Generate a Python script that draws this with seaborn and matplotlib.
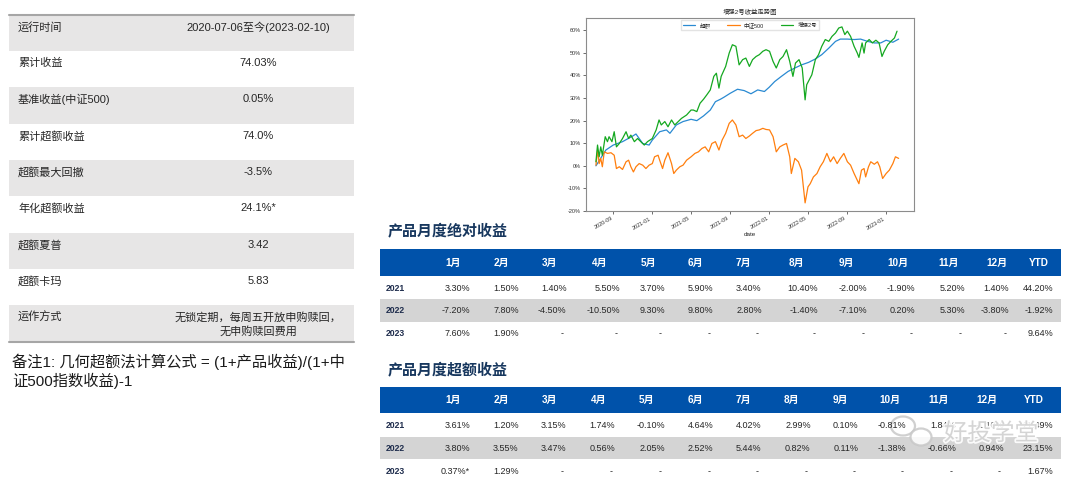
import pandas as pd
import seaborn as sns
import matplotlib.pyplot as plt
import matplotlib.dates as mdates
import matplotlib.patheffects as pe
from matplotlib.ticker import FuncFormatter, MultipleLocator
from matplotlib.patches import Rectangle, Ellipse

# ---- 左侧产品指标 ----
stat_names = ['运行时间', '累计收益', '基准收益(中证500)', '累计超额收益', '超额最大回撤',
              '年化超额收益', '超额夏普', '超额卡玛', '运作方式']
stat_values = ['2020-07-06至今(2023-02-10)', '74.03%', '0.05%', '74.0%', '-3.5%',
               '24.1%*', '3.42', '5.83', '无锁定期，每周五开放申购赎回，\n无申购赎回费用']
note_text = '备注1: 几何超额法计算公式 = (1+产品收益)/(1+中\n证500指数收益)-1'

# ---- 月度收益表 ----
month_cols = ['1月', '2月', '3月', '4月', '5月', '6月', '7月', '8月', '9月',
              '10月', '11月', '12月', 'YTD']
years = ['2021', '2022', '2023']
abs_2021 = ['3.30%', '1.50%', '1.40%', '5.50%', '3.70%', '5.90%', '3.40%', '10.40%',
            '-2.00%', '-1.90%', '5.20%', '1.40%', '44.20%']
abs_2022 = ['-7.20%', '7.80%', '-4.50%', '-10.50%', '9.30%', '9.80%', '2.80%', '-1.40%',
            '-7.10%', '0.20%', '5.30%', '-3.80%', '-1.92%']
abs_2023 = ['7.60%', '1.90%', '-', '-', '-', '-', '-', '-', '-', '-', '-', '-', '9.64%']
exc_2021 = ['3.61%', '1.20%', '3.15%', '1.74%', '-0.10%', '4.64%', '4.02%', '2.99%',
            '0.10%', '-0.81%', '1.84%', '-1.10%', '21.49%']
exc_2022 = ['3.80%', '3.55%', '3.47%', '0.56%', '2.05%', '2.52%', '5.44%', '0.82%',
            '0.11%', '-1.38%', '-0.66%', '0.94%', '23.15%']
exc_2023 = ['0.37%*', '1.29%', '-', '-', '-', '-', '-', '-', '-', '-', '-', '-', '1.67%']

# ---- 收益走势 (单位 %) ----
excess_dates = ['2020-07-09', '2020-08-09', '2020-09-01', '2020-09-30', '2020-11-01', '2020-11-11',
                '2020-12-02', '2020-12-22', '2021-01-01', '2021-01-24', '2021-02-14', '2021-02-25',
                '2021-03-17', '2021-04-07', '2021-05-02', '2021-05-20', '2021-06-10', '2021-07-01',
                '2021-07-17', '2021-08-02', '2021-08-13', '2021-09-01', '2021-09-24', '2021-10-15',
                '2021-11-05', '2021-11-26', '2021-12-17', '2022-01-01', '2022-01-18', '2022-02-08',
                '2022-03-01', '2022-03-22', '2022-04-12', '2022-05-04', '2022-05-25', '2022-06-14',
                '2022-07-06', '2022-07-27', '2022-08-11', '2022-09-02', '2022-09-23', '2022-10-13',
                '2022-11-04', '2022-11-25', '2022-12-15', '2023-01-01', '2023-01-22', '2023-02-09']
excess_vals = [0.0, 7.0, 9.2, 10.7, 13.2, 14.1, 9.9, 9.2, 11.4, 15.1, 15.9, 14.4,
               18.1, 19.6, 20.6, 20.0, 22.1, 24.7, 28.4, 29.5, 30.4, 32.1, 33.9, 33.3,
               31.9, 33.6, 32.9, 34.8, 37.3, 39.6, 41.8, 43.3, 44.7, 45.8, 47.3, 49.2,
               52.1, 55.1, 56.1, 56.1, 55.9, 56.1, 55.1, 54.4, 54.4, 55.6, 54.7, 56.1]

csi_dates = ['2020-07-09', '2020-07-14', '2020-07-19', '2020-07-24', '2020-07-29', '2020-08-04',
             '2020-08-14', '2020-08-25', '2020-09-04', '2020-09-11', '2020-09-20', '2020-09-30',
             '2020-10-11', '2020-10-19', '2020-10-26', '2020-11-03', '2020-11-11', '2020-11-21',
             '2020-12-02', '2020-12-12', '2020-12-22', '2021-01-01', '2021-01-08', '2021-01-19',
             '2021-01-24', '2021-02-02', '2021-02-09', '2021-02-19', '2021-03-02', '2021-03-09',
             '2021-03-17', '2021-03-28', '2021-04-07', '2021-04-18', '2021-05-02', '2021-05-14',
             '2021-05-25', '2021-06-05', '2021-06-15', '2021-06-26', '2021-07-06', '2021-07-17',
             '2021-07-28', '2021-08-07', '2021-08-18', '2021-08-29', '2021-09-08', '2021-09-19',
             '2021-09-29', '2021-10-10', '2021-10-20', '2021-10-31', '2021-11-10', '2021-11-21',
             '2021-12-01', '2021-12-12', '2021-12-22', '2022-01-02', '2022-01-13', '2022-01-23',
             '2022-02-03', '2022-02-13', '2022-02-24', '2022-03-06', '2022-03-11', '2022-03-22',
             '2022-04-02', '2022-04-12', '2022-04-23', '2022-05-02', '2022-05-09', '2022-05-19',
             '2022-05-30', '2022-06-09', '2022-06-19', '2022-06-30', '2022-07-11', '2022-07-21',
             '2022-08-01', '2022-08-11', '2022-08-22', '2022-09-02', '2022-09-12', '2022-09-23',
             '2022-10-03', '2022-10-08', '2022-10-16', '2022-10-24', '2022-10-29', '2022-11-07',
             '2022-11-14', '2022-11-25', '2022-12-05', '2022-12-12', '2022-12-21', '2023-01-01',
             '2023-01-11', '2023-01-22', '2023-01-30', '2023-02-09']
csi_vals = [0.3, 7.0, 1.0, 3.3, -0.4, 6.2, 5.5, 5.8, 4.7, -1.2, -0.4, -1.6,
            1.8, 2.5, -0.4, -2.7, -0.4, 1.0, 0.3, -1.2, 0.3, 1.0, 4.0, 4.7,
            2.5, -1.2, 2.5, 5.8, 1.0, -3.4, -1.9, -0.4, 0.3, 2.5, 4.0, 5.5,
            6.2, 7.7, 8.4, 6.2, 9.9, 10.7, 7.0, 11.4, 14.4, 18.8, 20.3, 18.1,
            12.9, 13.6, 12.1, 13.2, 14.4, 15.6, 15.9, 16.6, 16.1, 15.9, 12.9, 6.2,
            8.4, 9.2, 9.9, 4.0, -3.4, 3.3, 1.8, -1.9, -16.4, -9.3, -7.9, -4.9,
            -3.4, -0.4, 1.8, 5.5, 1.8, 4.0, 1.0, 3.3, 5.5, 1.8, 0.3, -3.4,
            -6.4, -7.9, -1.9, -1.2, -4.9, -0.4, 1.8, 0.7, 1.8, -0.4, -5.6, -3.4,
            -1.9, 1.0, 4.0, 3.3]

fund_dates = ['2020-07-09', '2020-07-14', '2020-07-19', '2020-07-24', '2020-07-29', '2020-08-07',
              '2020-08-14', '2020-08-19', '2020-08-28', '2020-09-04', '2020-09-11', '2020-09-20',
              '2020-09-30', '2020-10-11', '2020-10-19', '2020-10-26', '2020-11-06', '2020-11-16',
              '2020-11-26', '2020-12-07', '2020-12-17', '2021-01-01', '2021-01-13', '2021-01-22',
              '2021-01-29', '2021-02-09', '2021-02-19', '2021-03-02', '2021-03-12', '2021-03-23',
              '2021-04-02', '2021-04-18', '2021-05-02', '2021-05-09', '2021-05-20', '2021-05-30',
              '2021-06-10', '2021-06-20', '2021-07-01', '2021-07-12', '2021-07-20', '2021-07-28',
              '2021-08-04', '2021-08-18', '2021-08-29', '2021-09-08', '2021-09-19', '2021-09-29',
              '2021-10-10', '2021-10-20', '2021-10-31', '2021-11-10', '2021-11-21', '2021-12-01',
              '2021-12-12', '2021-12-22', '2022-01-02', '2022-01-13', '2022-01-23', '2022-02-03',
              '2022-02-13', '2022-02-24', '2022-03-06', '2022-03-16', '2022-03-24', '2022-04-04',
              '2022-04-14', '2022-04-23', '2022-04-28', '2022-05-06', '2022-05-14', '2022-05-25',
              '2022-06-04', '2022-06-14', '2022-06-25', '2022-07-06', '2022-07-16', '2022-07-27',
              '2022-08-06', '2022-08-16', '2022-08-25', '2022-09-02', '2022-09-12', '2022-09-23',
              '2022-10-03', '2022-10-08', '2022-10-18', '2022-10-24', '2022-10-29', '2022-11-09',
              '2022-11-19', '2022-11-30', '2022-12-10', '2022-12-19', '2022-12-26', '2023-01-06',
              '2023-01-16', '2023-01-27', '2023-02-04']
fund_vals = [1.8, 9.2, 4.0, 8.4, 4.7, 12.9, 10.7, 12.9, 10.7, 15.1, 8.4, 9.9,
             12.1, 15.1, 12.1, 13.6, 10.7, 12.1, 10.7, 9.2, 10.7, 12.1, 15.9, 20.3,
             18.1, 19.6, 17.3, 20.3, 18.1, 19.6, 21.0, 22.5, 24.7, 24.7, 24.0, 27.7,
             29.5, 31.4, 33.6, 39.6, 41.0, 34.4, 39.6, 44.0, 49.9, 53.6, 52.9, 44.7,
             47.0, 47.7, 44.0, 47.0, 48.4, 49.2, 50.7, 51.4, 50.7, 46.2, 43.3, 47.0,
             48.4, 51.4, 46.2, 39.6, 45.5, 47.0, 43.3, 29.2, 35.9, 38.1, 40.3, 47.0,
             49.2, 52.9, 55.9, 55.1, 57.3, 58.8, 61.0, 61.5, 58.1, 59.6, 57.3, 52.9,
             49.9, 48.0, 54.4, 49.9, 54.4, 55.9, 54.4, 55.6, 54.4, 48.4, 50.7, 53.6,
             55.1, 56.6, 59.6]

series_names = ['超额', '中证500', '增强2号']
series_colors = ['#2a8ad2', '#ff7f0e', '#14a820']

sns.set_theme(style='white')
plt.rcParams['font.family'] = ['Liberation Sans', 'Noto Sans CJK SC', 'DejaVu Sans']

fig = plt.figure(figsize=(10.8, 4.83), dpi=100)

# 画布坐标 (像素) 用于表格
bg = fig.add_axes([0, 0, 1, 1])
bg.set_xlim(0, 1080)
bg.set_ylim(483, 0)
bg.axis('off')

# ---- 左表 ----
row_edges = [15, 51, 87, 124, 160, 196, 233, 269, 305, 342]
for i, (name, val) in enumerate(zip(stat_names, stat_values)):
    top, bot = row_edges[i], row_edges[i + 1]
    if i % 2 == 0:
        bg.add_patch(Rectangle((9, top), 345, bot - top, color='#e7e6e6', lw=0))
    bg.text(18, top + 12, name, fontsize=8, va='center', ha='left', color='#262626')
    nlines = val.count('\n') + 1
    bg.text(258, top + 12 + 7.5 * (nlines - 1), val, fontsize=8, va='center', ha='center',
            multialignment='center', linespacing=1.35, color='#262626')
bg.plot([9, 354], [row_edges[0], row_edges[0]], color='#a6a6a6', lw=1.5)
bg.plot([9, 354], [row_edges[-1], row_edges[-1]], color='#a6a6a6', lw=1.5)
bg.text(12.5, 371.5, note_text, fontsize=11, va='center', ha='left', linespacing=1.22,
        color='#1a1a1a')

# ---- 右侧月度表 ----
def draw_table(title, title_y, head, row_ys, gray, centers, rights, rows):
    bg.text(388, title_y, title, fontsize=10.8, fontweight='bold', color='#17375e',
            va='center', ha='left')
    bg.add_patch(Rectangle((380, head[0]), 681, head[1] - head[0], color='#0052aa', lw=0))
    bg.add_patch(Rectangle((380, gray[0]), 681, gray[1] - gray[0], color='#d4d4d4', lw=0))
    hy = (head[0] + head[1]) / 2
    for c, m in zip(centers, month_cols):
        bg.text(c, hy, m, fontsize=7.2, fontweight='bold', color='white', ha='center', va='center')
    for y, yr, vals in zip(row_ys, years, rows):
        bg.text(386, y, yr, fontsize=6.2, fontweight='bold', color='#1f2d4d', ha='left', va='center')
        for r, v in zip(rights, vals):
            x = r - 3 if v == '-' else r
            bg.text(x, y, v, fontsize=6.5, color='#262626', ha='right', va='center')


draw_table('产品月度绝对收益', 231, (249.3, 276), [288.7, 310.7, 334], (299.3, 322),
           [452.7, 501.7, 550, 600, 648.3, 695, 743.3, 796, 846.7, 898.3, 948.3, 996.7, 1038.3],
           [470, 518.7, 566.7, 620.7, 665, 713.3, 761.7, 818.3, 867.3, 915.7, 965, 1009.3, 1053.3],
           [abs_2021, abs_2022, abs_2023])
draw_table('产品月度超额收益', 370, (386.7, 413.3), [425.3, 448.7, 471.3], (436.7, 459.3),
           [452.7, 501.7, 550, 598.3, 646.7, 695, 743.3, 791.7, 840, 890, 938.3, 986.7, 1034],
           [470, 518.7, 566.7, 615.3, 665, 713.3, 761.7, 810.7, 858.3, 906.7, 956, 1004, 1053.3],
           [exc_2021, exc_2022, exc_2023])

# 水印
for (cx, cy, w, h) in [(903, 426, 24, 19), (921, 437, 21, 17)]:
    bg.add_patch(Ellipse((cx, cy), w, h, facecolor='white', edgecolor='#c8c8c8', lw=1.6, alpha=0.85))
bg.text(991, 434, '好投学堂', fontsize=17, color='#d0d0d0', ha='center', va='center', alpha=0.9,
        path_effects=[pe.withStroke(linewidth=2.5, foreground='white')])

# ---- 收益走势图 ----
df = pd.concat([
    pd.DataFrame({'date': pd.to_datetime(excess_dates), 'value': excess_vals, 'series': series_names[0]}),
    pd.DataFrame({'date': pd.to_datetime(csi_dates), 'value': csi_vals, 'series': series_names[1]}),
    pd.DataFrame({'date': pd.to_datetime(fund_dates), 'value': fund_vals, 'series': series_names[2]}),
])
df['value'] = df['value'] / 100

ax = fig.add_axes([0.5423, 0.5631, 0.3043, 0.399])
sns.lineplot(data=df, x='date', y='value', hue='series', hue_order=series_names,
             palette=series_colors, estimator=None, linewidth=0.9, ax=ax)
ax.set_xlim(pd.Timestamp('2020-06-07'), pd.Timestamp('2023-03-30'))
ax.set_ylim(-0.20, 0.653)
ax.yaxis.set_major_locator(MultipleLocator(0.1))
ax.yaxis.set_major_formatter(FuncFormatter(lambda v, _: f'{round(v * 100):d}%'))
ax.xaxis.set_major_locator(mdates.MonthLocator(bymonth=[1, 5, 9]))
ax.xaxis.set_major_formatter(mdates.DateFormatter('%Y-%m'))
ax.tick_params(axis='both', labelsize=4, length=2, width=0.5, pad=1.5, colors='#333333',
               bottom=True, left=True)
plt.setp(ax.get_xticklabels(), rotation=30, ha='right')
ax.set_xlabel('date', fontsize=4.5, labelpad=1)
ax.set_ylabel('')
ax.set_title('增强2号收益走势图', fontsize=4.6, pad=3)
for s in ax.spines.values():
    s.set_color('#8c8c8c')
    s.set_linewidth(0.8)
ax.legend(loc='upper center', ncol=3, fontsize=4, handlelength=2.2, columnspacing=3,
          borderpad=0.4, frameon=True, edgecolor='#dddddd', fancybox=False, borderaxespad=0.3)

fig.savefig('out.png', dpi=100)
